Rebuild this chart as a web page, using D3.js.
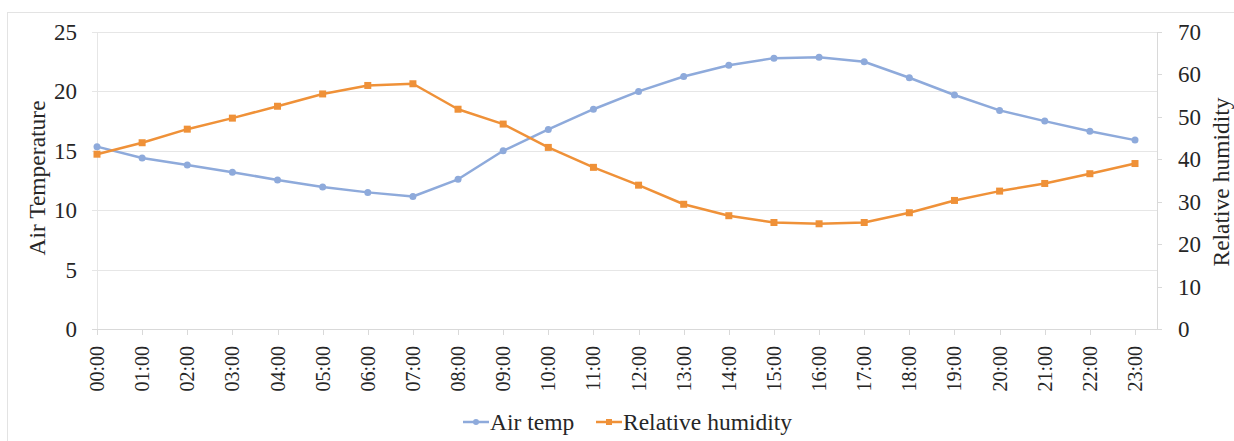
<!DOCTYPE html>
<meta charset="utf-8">
<style>
body { margin: 0; background: #fff; }
text { font-family: "Liberation Serif", "Times New Roman", serif; fill: #262626; }
</style>
<body>
<script src="https://d3js.org/d3.v7.min.js"></script>
<script>
var hours = ["00:00","01:00","02:00","03:00","04:00","05:00","06:00","07:00","08:00","09:00","10:00","11:00",
             "12:00","13:00","14:00","15:00","16:00","17:00","18:00","19:00","20:00","21:00","22:00","23:00"];
var airTemp = [15.35, 14.4, 13.8, 13.2, 12.55, 11.95, 11.5, 11.15, 12.6, 15.0, 16.8, 18.5,
               20.0, 21.25, 22.2, 22.8, 22.87, 22.5, 21.15, 19.7, 18.4, 17.5, 16.65, 15.9];
var humidity = [41.2, 43.9, 47.1, 49.7, 52.5, 55.4, 57.4, 57.8, 51.8, 48.3, 42.8, 38.1,
                33.9, 29.4, 26.7, 25.1, 24.8, 25.1, 27.4, 30.3, 32.5, 34.3, 36.6, 39.0];
var leftTicks = [0, 5, 10, 15, 20, 25];
var rightTicks = [0, 10, 20, 30, 40, 50, 60, 70];

var width = 1234, height = 441;
var plot = {left: 97, right: 1157, top: 32, bottom: 329, lastX: 1135};
var blue = "#8eaadb", orange = "#ef9138", gridC = "#e6e6e6", axisC = "#d9d9d9";

var svg = d3.select("body").append("svg")
    .attr("width", width)
    .attr("height", height);

// outer chart border
svg.append("rect")
    .attr("x", 7.5).attr("y", 12.5)
    .attr("width", width).attr("height", height)
    .attr("fill", "none").attr("stroke", "#e3e3e3");

var x = d3.scalePoint().domain(hours).range([plot.left, plot.lastX]);
var yL = d3.scaleLinear().domain([0, 25]).range([plot.bottom, plot.top]);
var yR = d3.scaleLinear().domain([0, 70]).range([plot.bottom, plot.top]);

// horizontal gridlines
svg.append("g").selectAll("line")
    .data(leftTicks)
  .enter().append("line")
    .attr("x1", plot.left - 5).attr("x2", plot.right)
    .attr("y1", function(d) { return Math.round(yL(d)) + 0.5; })
    .attr("y2", function(d) { return Math.round(yL(d)) + 0.5; })
    .attr("stroke", function(d) { return d === 0 ? axisC : gridC; });

// left / right axis lines
svg.append("line")
    .attr("x1", plot.left + 0.5).attr("x2", plot.left + 0.5)
    .attr("y1", plot.top).attr("y2", plot.bottom)
    .attr("stroke", gridC);
svg.append("line")
    .attr("x1", plot.right + 0.5).attr("x2", plot.right + 0.5)
    .attr("y1", plot.top).attr("y2", plot.bottom)
    .attr("stroke", axisC);

// right ticks
svg.append("g").selectAll("line")
    .data(rightTicks)
  .enter().append("line")
    .attr("x1", plot.right).attr("x2", plot.right + 5)
    .attr("y1", function(d) { return Math.round(yR(d)) + 0.5; })
    .attr("y2", function(d) { return Math.round(yR(d)) + 0.5; })
    .attr("stroke", axisC);

// x ticks
svg.append("g").selectAll("line")
    .data(hours)
  .enter().append("line")
    .attr("x1", function(d) { return Math.round(x(d)) + 0.5; })
    .attr("x2", function(d) { return Math.round(x(d)) + 0.5; })
    .attr("y1", plot.bottom).attr("y2", plot.bottom + 6)
    .attr("stroke", axisC);

// tick labels
svg.append("g").selectAll("text")
    .data(leftTicks)
  .enter().append("text")
    .attr("x", 77)
    .attr("y", function(d) { return yL(d); })
    .attr("dy", "0.35em")
    .attr("text-anchor", "end")
    .style("font-size", "23px")
    .text(function(d) { return d; });

svg.append("g").selectAll("text")
    .data(rightTicks)
  .enter().append("text")
    .attr("x", 1178)
    .attr("y", function(d) { return yR(d); })
    .attr("dy", "0.35em")
    .style("font-size", "23px")
    .text(function(d) { return d; });

svg.append("g").selectAll("text")
    .data(hours)
  .enter().append("text")
    .attr("transform", function(d) { return "translate(" + x(d) + "," + 346 + ") rotate(-90)"; })
    .attr("dy", "0.35em")
    .attr("text-anchor", "end")
    .style("font-size", "20px")
    .text(function(d) { return d; });

// axis titles
svg.append("text")
    .attr("transform", "translate(37,178) rotate(-90)")
    .attr("text-anchor", "middle")
    .attr("dy", "0.35em")
    .style("font-size", "23.5px")
    .text("Air Temperature");
svg.append("text")
    .attr("transform", "translate(1221,182) rotate(-90)")
    .attr("text-anchor", "middle")
    .attr("dy", "0.35em")
    .style("font-size", "23.5px")
    .text("Relative humidity");

// series
function drawSeries(values, yScale, color, shape) {
  var line = d3.line()
      .x(function(d, i) { return x(hours[i]); })
      .y(function(d) { return yScale(d); });
  svg.append("path")
      .datum(values)
      .attr("d", line)
      .attr("fill", "none")
      .attr("stroke", color)
      .attr("stroke-width", 2.5)
      .attr("stroke-linejoin", "round");
  var g = svg.append("g").selectAll(".pt")
      .data(values)
    .enter();
  if (shape === "circle") {
    g.append("circle")
        .attr("cx", function(d, i) { return x(hours[i]); })
        .attr("cy", function(d) { return yScale(d); })
        .attr("r", 3.5)
        .attr("fill", color);
  } else {
    g.append("rect")
        .attr("x", function(d, i) { return x(hours[i]) - 3.5; })
        .attr("y", function(d) { return yScale(d) - 3.5; })
        .attr("width", 7).attr("height", 7)
        .attr("fill", color);
  }
}
drawSeries(airTemp, yL, blue, "circle");
drawSeries(humidity, yR, orange, "square");

// legend
var legend = [
  {label: "Air temp", color: blue, shape: "circle", x: 463},
  {label: "Relative humidity", color: orange, shape: "square", x: 596}
];
var lg = svg.append("g").selectAll("g")
    .data(legend)
  .enter().append("g")
    .attr("transform", function(d) { return "translate(" + d.x + ",422)"; });
lg.append("line")
    .attr("x1", 0).attr("x2", 26)
    .attr("stroke", function(d) { return d.color; })
    .attr("stroke-width", 2.5);
lg.filter(function(d) { return d.shape === "circle"; }).append("circle")
    .attr("cx", 13).attr("r", 3)
    .attr("fill", function(d) { return d.color; });
lg.filter(function(d) { return d.shape === "square"; }).append("rect")
    .attr("x", 10).attr("y", -3).attr("width", 6).attr("height", 6)
    .attr("fill", function(d) { return d.color; });
lg.append("text")
    .attr("x", 27)
    .attr("dy", "0.35em")
    .style("font-size", "23.5px")
    .text(function(d) { return d.label; });
</script>
